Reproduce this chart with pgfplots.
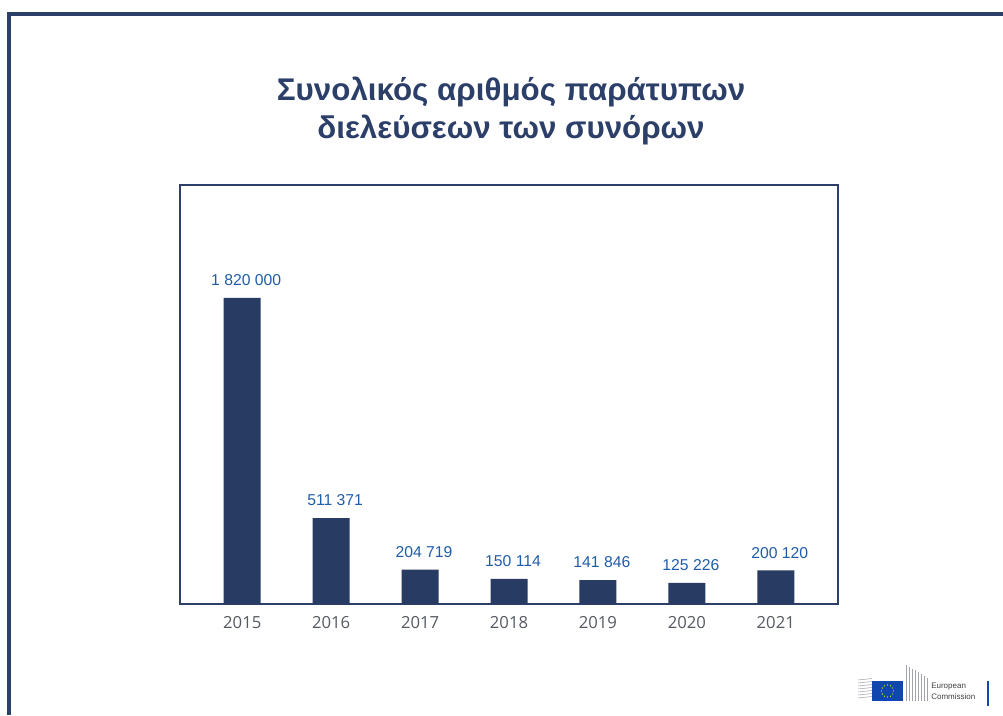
\documentclass[border=0pt]{standalone}
\usepackage{fontspec}
\setmainfont{Liberation Sans}
\newfontfamily\tickfont{Open Sans}
\usepackage{pgfplots}
\pgfplotsset{compat=1.18}
\definecolor{frame}{HTML}{2B3F69}
\definecolor{barc}{HTML}{283B63}
\definecolor{lab}{HTML}{1F5DAA}
\definecolor{tickc}{HTML}{555A63}
\definecolor{eublue}{HTML}{0F47AF}
\definecolor{eugrey}{HTML}{A0A4AA}
\begin{document}
\begin{tikzpicture}[x=0.75pt,y=0.75pt]
% page in pixel units, y counted from the bottom
\path[use as bounding box, fill=white] (0,0) rectangle (1003,715);
\draw[frame, line width=3pt] (1003,701) -- (9,701) -- (9,0);

\node[anchor=base, text=frame, font=\bfseries\fontsize{23.5}{26}\selectfont, inner sep=0]
  at (511,614) {Συνολικός αριθμός παράτυπων};
\node[anchor=base, text=frame, font=\bfseries\fontsize{23.5}{26}\selectfont, inner sep=0]
  at (511,576) {διελεύσεων των συνόρων};

\begin{axis}[
  at={(135pt,83.25pt)}, anchor=south west,
  scale only axis, width=493.5pt, height=314.25pt,
  xmin=-0.7, xmax=6.7, ymin=0, ymax=2492000,
  ybar, bar width=27.75pt,
  axis line style={frame, line width=0.9pt},
  ytick=\empty,
  xtick={0,...,6},
  xticklabels={2015,2016,2017,2018,2019,2020,2021},
  major tick length=0pt,
  xticklabel style={font=\tickfont\fontsize{12.5}{13}\selectfont, text=tickc, yshift=-6pt},
  nodes near coords,
  point meta=explicit symbolic,
  nodes near coords style={font=\fontsize{11.8}{12}\selectfont, text=lab, yshift=5.5pt, xshift=3pt},
]
\addplot[fill=barc, draw=none] coordinates {
  (0,1820000) [1 820 000]
  (1,511371)  [511 371]
  (2,204719)  [204 719]
  (3,150114)  [150 114]
  (4,141846)  [141 846]
  (5,125226)  [125 226]
  (6,200120)  [200 120]
};
\end{axis}

% European Commission logo (approximation)
\foreach \yy in {17,20,23,26,29,32,35} {
  \draw[eugrey, line width=0.4pt] (858,\yy) -- (872,\yy+1.5);
}
\foreach \xx in {906,909,912,915,918,921,924,927} {
  \draw[eugrey, line width=0.4pt] (\xx,14) -- (\xx,{50-(\xx-906)*0.6});
}
\fill[eublue] (872,14) rectangle (903,34);
\foreach \a in {0,30,...,330} {
  \fill[yellow!90!orange] ({887.5+6*cos(\a)},{24+6*sin(\a)}) circle (0.7);
}
\node[anchor=west, text=black!75, font=\fontsize{6}{7}\selectfont, inner sep=0] at (931,28) {European};
\node[anchor=west, text=black!75, font=\fontsize{6}{7}\selectfont, inner sep=0] at (931,18) {Commission};
\draw[eublue, line width=1.2pt] (988,9) -- (988,34);
\end{tikzpicture}
\end{document}
